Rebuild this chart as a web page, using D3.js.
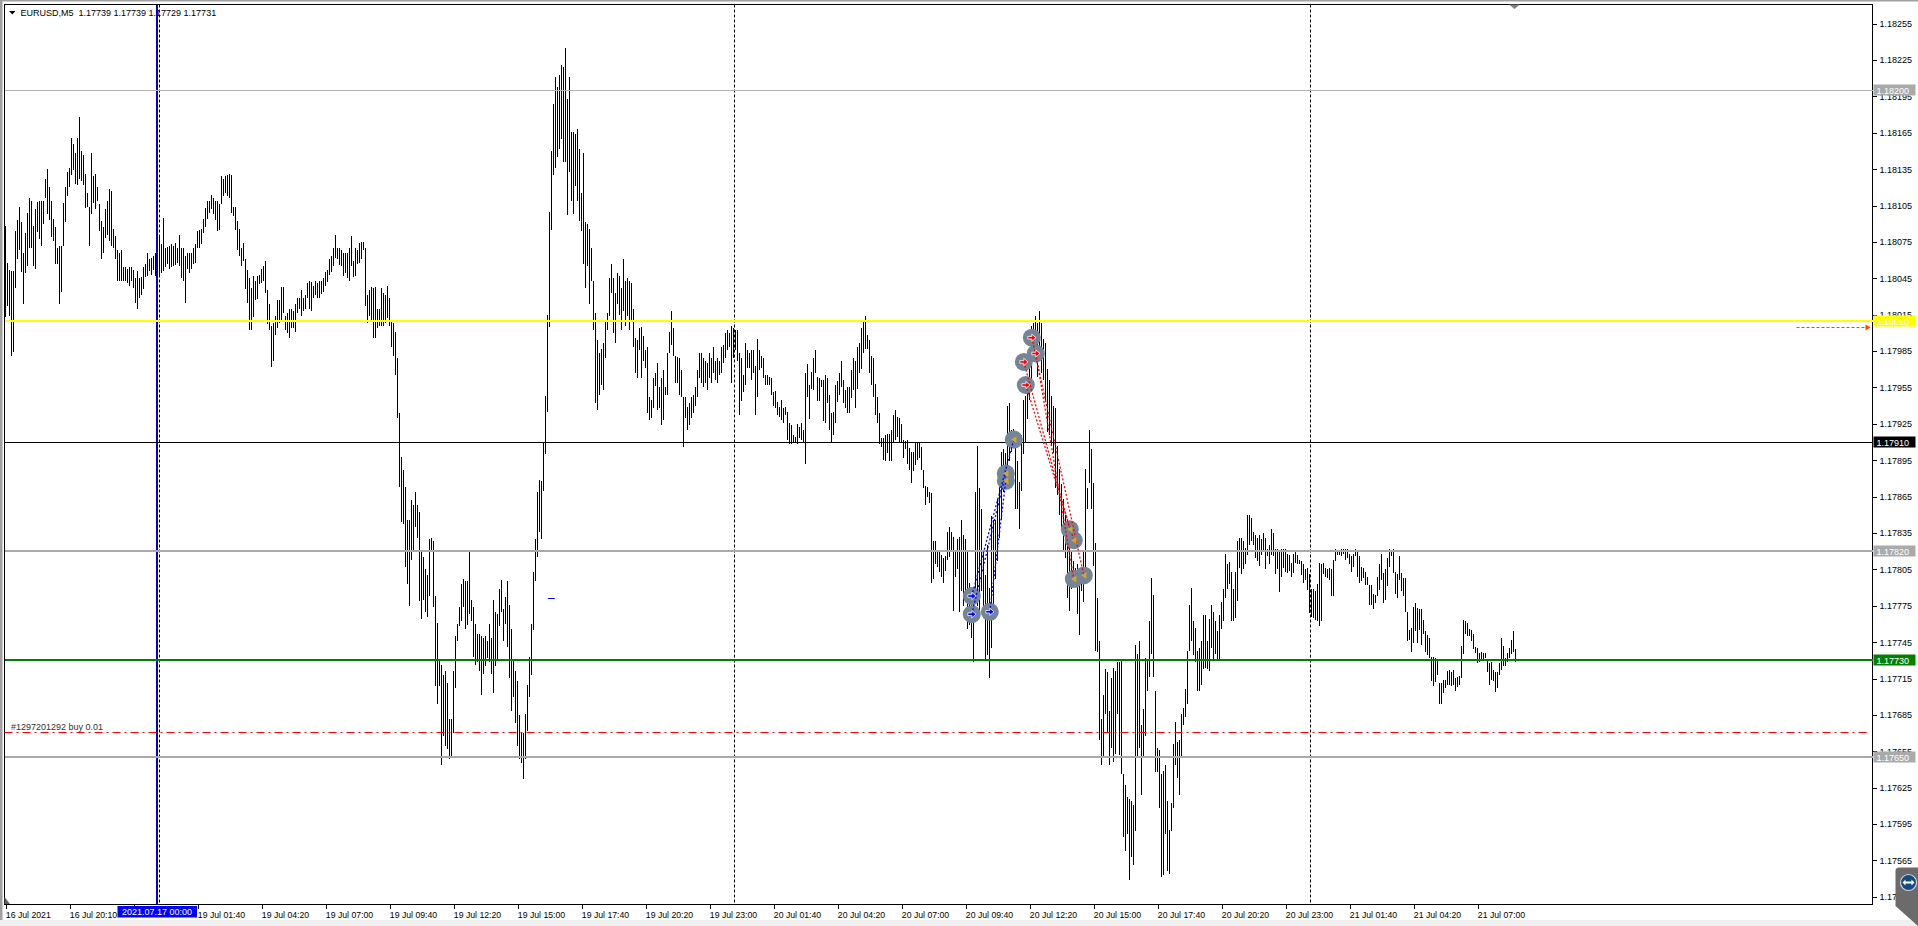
<!DOCTYPE html>
<html>
<head>
<meta charset="utf-8">
<script src="https://cdn.jsdelivr.net/npm/d3@7"></script>
<style>
    body { margin: 0; background: #ffffff; }
    svg { display: block; font-family: "Liberation Sans", Arial, sans-serif; }
</style>
</head>
<body>
<div id="chart-container"></div>
<script>
let width = 1918;
let height = 926;
let plot = ({left: 4.5, top: 4.5, right: 1872.5, bottom: 904.5});

const symbol = "EURUSD,M5";
const lastBarOHLC = [1.17739, 1.17739, 1.17729, 1.17731];

// bar highs / lows, one array per trading day (M5 bars)
const jul16High = [1.18088,1.18058,1.18052,1.18051,1.18051,1.18084,1.18093,1.18104,1.18091,1.18066,
    1.18082,1.18099,1.18111,1.18109,1.18088,1.18102,1.18108,1.18109,1.18109,1.18109,
    1.18127,1.18135,1.18120,1.18109,1.18094,1.18087,1.18070,1.18072,1.18072,1.18107,
    1.18120,1.18133,1.18136,1.18161,1.18156,1.18148,1.18161,1.18178,1.18150,1.18147,
    1.18131,1.18115,1.18104,1.18148,1.18129,1.18131,1.18120,1.18106,1.18092,1.18087,
    1.18102,1.18109,1.18119,1.18117,1.18086,1.18080,1.18068,1.18066,1.18068,1.18054,
    1.18054,1.18053,1.18054,1.18054,1.18052,1.18045,1.18051,1.18045,1.18046,1.18054,
    1.18057,1.18066,1.18061,1.18062,1.18063,1.18066];
const jul16Low = [1.18013,1.18022,1.18014,1.17981,1.17984,1.18037,1.18061,1.18068,1.18050,1.18024,
    1.18049,1.18055,1.18070,1.18070,1.18055,1.18053,1.18083,1.18077,1.18072,1.18090,
    1.18111,1.18098,1.18093,1.18079,1.18076,1.18057,1.18057,1.18024,1.18034,1.18072,
    1.18091,1.18113,1.18120,1.18130,1.18134,1.18123,1.18122,1.18127,1.18125,1.18122,
    1.18103,1.18104,1.18072,1.18098,1.18107,1.18102,1.18109,1.18084,1.18061,1.18066,
    1.18078,1.18081,1.18076,1.18072,1.18070,1.18061,1.18043,1.18043,1.18043,1.18043,
    1.18043,1.18041,1.18039,1.18043,1.18037,1.18025,1.18020,1.18029,1.18031,1.18036,
    1.18046,1.18047,1.18051,1.18048,1.18052,1.18047];

const jul19High = [1.18068,1.18079,1.18073,1.18095,1.18070,1.18071,1.18072,1.18073,1.18072,1.18074,
    1.18070,1.18081,1.18070,1.18070,1.18063,1.18066,1.18066,1.18066,1.18070,1.18073,
    1.18084,1.18085,1.18086,1.18094,1.18103,1.18109,1.18109,1.18114,1.18111,1.18109,
    1.18109,1.18106,1.18129,1.18127,1.18129,1.18130,1.18131,1.18130,1.18104,1.18104,
    1.18092,1.18086,1.18070,1.18074,1.18061,1.18052,1.18045,1.18037,1.18047,1.18043,
    1.18047,1.18048,1.18053,1.18055,1.18059,1.18035,1.18024,1.18006,1.18008,1.18014,
    1.18027,1.18027,1.18038,1.18038,1.18014,1.18016,1.18020,1.18020,1.18018,1.18024,
    1.18029,1.18029,1.18035,1.18029,1.18031,1.18041,1.18043,1.18042,1.18039,1.18043,
    1.18041,1.18043,1.18043,1.18045,1.18050,1.18052,1.18061,1.18063,1.18070,1.18081,
    1.18070,1.18070,1.18068,1.18066,1.18066,1.18066,1.18070,1.18080,1.18059,1.18070,
    1.18068,1.18074,1.18075,1.18075,1.18070,1.18031,1.18035,1.18038,1.18037,1.18038,
    1.18020,1.18020,1.18037,1.18033,1.18031,1.18039,1.18029,1.18010,1.18008,1.18001,
    1.17979,1.17934,1.17898,1.17887,1.17873,1.17846,1.17846,1.17862,1.17858,1.17869,
    1.17858,1.17852,1.17821,1.17815,1.17805,1.17800,1.17830,1.17831,1.17828,1.17783,
    1.17761,1.17731,1.17726,1.17718,1.17721,1.17711,1.17682,1.17682,1.17721,1.17750,
    1.17760,1.17774,1.17793,1.17797,1.17795,1.17795,1.17821,1.17780,1.17774,1.17760,
    1.17752,1.17752,1.17750,1.17748,1.17750,1.17746,1.17760,1.17748,1.17780,1.17770,
    1.17768,1.17789,1.17796,1.17772,1.17782,1.17795,1.17776,1.17756,1.17731,1.17721,
    1.17713,1.17685,1.17670,1.17670,1.17686,1.17710,1.17733,1.17760,1.17803,1.17830,
    1.17869,1.17879,1.17878,1.17910,1.17948,1.18015,1.18100,1.18150,1.18189,1.18211,
    1.18203,1.18213,1.18221,1.18219,1.18235,1.18193,1.18211,1.18166,1.18166,1.18164,
    1.18168,1.18152,1.18115,1.18148,1.18091,1.18090,1.18086,1.18070,1.18043,1.18016,
    1.17994,1.17983,1.17987,1.17992,1.18010,1.18016,1.18045,1.18057,1.18045,1.18033,
    1.18049,1.18047,1.18037,1.18061,1.18043,1.18045,1.18043,1.18041,1.18020,1.17996,
    1.17994,1.18004,1.18005,1.17997,1.17986,1.17988,1.17947,1.17945,1.17963,1.17967,
    1.17975,1.17955,1.17963,1.17969,1.17955,1.17983,1.18001,1.18018,1.18004,1.17981,
    1.17980,1.17979,1.17969,1.17947,1.17947,1.17939,1.17942,1.17947,1.17949,1.17955,
    1.17969,1.17983,1.17983,1.17979,1.17977,1.17975,1.17983,1.17979,1.17988,1.17977,
    1.17979,1.17977,1.17988,1.17990,1.18000,1.18002,1.18000,1.18006];
const jul19Low = [1.18049,1.18046,1.18049,1.18051,1.18054,1.18057,1.18053,1.18054,1.18055,1.18056,
    1.18058,1.18055,1.18045,1.18043,1.18025,1.18053,1.18049,1.18053,1.18057,1.18058,
    1.18070,1.18070,1.18073,1.18082,1.18087,1.18094,1.18099,1.18102,1.18098,1.18093,
    1.18084,1.18085,1.18106,1.18113,1.18115,1.18113,1.18111,1.18099,1.18096,1.18085,
    1.18068,1.18063,1.18055,1.18059,1.18036,1.18025,1.18002,1.18002,1.18013,1.18027,
    1.18028,1.18040,1.18041,1.18043,1.18033,1.18007,1.18002,1.17972,1.17977,1.17998,
    1.18004,1.18008,1.18010,1.18016,1.18002,1.18000,1.17996,1.18004,1.18004,1.18001,
    1.18016,1.18020,1.18014,1.18018,1.18020,1.18029,1.18020,1.18018,1.18029,1.18031,
    1.18029,1.18029,1.18032,1.18034,1.18039,1.18042,1.18048,1.18050,1.18055,1.18062,
    1.18061,1.18056,1.18055,1.18047,1.18049,1.18045,1.18043,1.18055,1.18046,1.18047,
    1.18057,1.18058,1.18061,1.18068,1.18022,1.18008,1.18014,1.18010,1.17996,1.17996,
    1.18004,1.18006,1.18006,1.18006,1.18008,1.18012,1.18006,1.17988,1.17981,1.17965,
    1.17930,1.17873,1.17844,1.17842,1.17807,1.17793,1.17775,1.17813,1.17819,1.17840,
    1.17831,1.17779,1.17764,1.17780,1.17770,1.17766,1.17783,1.17820,1.17774,1.17709,
    1.17694,1.17709,1.17644,1.17668,1.17659,1.17657,1.17649,1.17651,1.17670,1.17707,
    1.17746,1.17758,1.17762,1.17774,1.17756,1.17759,1.17768,1.17762,1.17733,1.17726,
    1.17729,1.17721,1.17701,1.17719,1.17725,1.17732,1.17729,1.17719,1.17703,1.17725,
    1.17731,1.17758,1.17770,1.17746,1.17760,1.17741,1.17715,1.17688,1.17700,1.17678,
    1.17659,1.17649,1.17645,1.17632,1.17649,1.17672,1.17700,1.17718,1.17755,1.17795,
    1.17815,1.17836,1.17830,1.17870,1.17900,1.17935,1.18005,1.18085,1.18130,1.18136,
    1.18145,1.18152,1.18160,1.18141,1.18141,1.18097,1.18133,1.18109,1.18098,1.18121,
    1.18109,1.18092,1.18084,1.18057,1.18037,1.18055,1.18024,1.18043,1.18002,1.17942,
    1.17936,1.17949,1.17957,1.17953,1.17979,1.18002,1.18014,1.18033,1.18000,1.17992,
    1.18024,1.18015,1.18002,1.18018,1.18006,1.18014,1.18002,1.18010,1.17988,1.17967,
    1.17963,1.17986,1.17963,1.17977,1.17971,1.17934,1.17928,1.17930,1.17938,1.17956,
    1.17936,1.17938,1.17924,1.17928,1.17949,1.17949,1.17983,1.17990,1.17981,1.17959,
    1.17959,1.17949,1.17947,1.17906,1.17930,1.17920,1.17924,1.17930,1.17934,1.17940,
    1.17947,1.17963,1.17959,1.17955,1.17959,1.17953,1.17963,1.17959,1.17967,1.17961,
    1.17959,1.17965,1.17967,1.17975,1.17979,1.17986,1.17988,1.17959];

const jul20High = [1.18004,1.18002,1.18002,1.17983,1.17979,1.17965,1.17992,1.17986,1.17983,1.17986,
    1.17986,1.17973,1.17995,1.17986,1.17981,1.17979,1.17965,1.17965,1.17964,1.17963,
    1.17951,1.17952,1.17943,1.17939,1.17945,1.17938,1.17939,1.17935,1.17926,1.17924,
    1.17916,1.17914,1.17925,1.17922,1.17926,1.17920,1.17967,1.17974,1.17957,1.17968,
    1.17979,1.17986,1.17964,1.17963,1.17961,1.17961,1.17965,1.17963,1.17949,1.17934,
    1.17935,1.17957,1.17960,1.17967,1.17977,1.17961,1.17953,1.17955,1.17955,1.17969,
    1.17979,1.17977,1.17988,1.17992,1.18004,1.18010,1.18014,1.17998,1.17994,1.17981,
    1.17979,1.17958,1.17947,1.17934,1.17913,1.17913,1.17916,1.17917,1.17917,1.17920,
    1.17932,1.17936,1.17931,1.17930,1.17925,1.17912,1.17911,1.17912,1.17905,1.17902,
    1.17902,1.17909,1.17910,1.17909,1.17906,1.17887,1.17874,1.17873,1.17869,1.17868,
    1.17828,1.17828,1.17821,1.17819,1.17817,1.17814,1.17816,1.17836,1.17840,1.17836,
    1.17832,1.17819,1.17830,1.17832,1.17846,1.17833,1.17830,1.17820,1.17794,1.17790,
    1.17784,1.17869,1.17907,1.17872,1.17855,1.17819,1.17800,1.17825,1.17790,1.17849,
    1.17846,1.17846,1.17863,1.17885,1.17902,1.17904,1.17901,1.17940,1.17942,1.17920,
    1.17921,1.17917,1.17894,1.17877,1.17916,1.17945,1.17948,1.17956,1.17973,1.18006,
    1.18008,1.18014,1.18008,1.18018,1.18008,1.17995,1.17992,1.17970,1.17961,1.17948,
    1.17940,1.17938,1.17907,1.17888,1.17875,1.17863,1.17850,1.17844,1.17825,1.17819,
    1.17812,1.17806,1.17809,1.17803,1.17806,1.17820,1.17888,1.17872,1.17920,1.17904,
    1.17876,1.17827,1.17781,1.17746,1.17682,1.17701,1.17723,1.17720,1.17688,1.17715,
    1.17724,1.17721,1.17729,1.17729,1.17731,1.17636,1.17627,1.17617,1.17616,1.17614,
    1.17611,1.17743,1.17735,1.17746,1.17677,1.17690,1.17732,1.17731,1.17762,1.17798,
    1.17784,1.17705,1.17658,1.17656,1.17636,1.17639,1.17644,1.17614,1.17590,1.17612,
    1.17661,1.17679,1.17663,1.17664,1.17686,1.17691,1.17706,1.17738,1.17776,1.17790,
    1.17762,1.17757,1.17738,1.17740,1.17746,1.17767,1.17767,1.17746,1.17764,1.17776,
    1.17770,1.17762,1.17754,1.17767,1.17778,1.17789,1.17818,1.17809,1.17811,1.17803,
    1.17789,1.17803,1.17828,1.17831,1.17831,1.17828,1.17823,1.17850,1.17850,1.17847,
    1.17836,1.17833,1.17831,1.17833,1.17830,1.17835,1.17831,1.17822,1.17825,1.17838,
    1.17835,1.17822,1.17822,1.17820,1.17822,1.17822,1.17822,1.17818,1.17817,1.17810,
    1.17818,1.17821,1.17817,1.17813,1.17812,1.17809,1.17805,1.17806];
const jul20Low = [1.17979,1.17986,1.17977,1.17932,1.17944,1.17951,1.17957,1.17971,1.17971,1.17961,
    1.17967,1.17932,1.17947,1.17969,1.17971,1.17963,1.17957,1.17957,1.17957,1.17949,
    1.17940,1.17938,1.17932,1.17931,1.17928,1.17926,1.17932,1.17912,1.17908,1.17908,
    1.17909,1.17910,1.17908,1.17913,1.17912,1.17910,1.17892,1.17947,1.17929,1.17954,
    1.17953,1.17967,1.17944,1.17944,1.17955,1.17927,1.17926,1.17942,1.17920,1.17910,
    1.17916,1.17926,1.17943,1.17949,1.17955,1.17942,1.17938,1.17934,1.17934,1.17946,
    1.17953,1.17938,1.17954,1.17967,1.17970,1.17983,1.17987,1.17987,1.17967,1.17957,
    1.17947,1.17932,1.17926,1.17908,1.17906,1.17895,1.17894,1.17901,1.17894,1.17894,
    1.17909,1.17912,1.17914,1.17910,1.17910,1.17897,1.17904,1.17892,1.17887,1.17876,
    1.17886,1.17891,1.17895,1.17897,1.17887,1.17872,1.17858,1.17865,1.17860,1.17794,
    1.17797,1.17809,1.17807,1.17803,1.17799,1.17794,1.17804,1.17813,1.17815,1.17819,
    1.17771,1.17799,1.17805,1.17770,1.17787,1.17775,1.17787,1.17756,1.17759,1.17748,
    1.17729,1.17787,1.17775,1.17768,1.17787,1.17768,1.17731,1.17734,1.17715,1.17740,
    1.17765,1.17797,1.17812,1.17831,1.17846,1.17869,1.17876,1.17876,1.17894,1.17902,
    1.17910,1.17855,1.17855,1.17838,1.17870,1.17900,1.17910,1.17929,1.17945,1.17960,
    1.17979,1.17992,1.17964,1.17981,1.17967,1.17961,1.17943,1.17918,1.17916,1.17907,
    1.17901,1.17872,1.17866,1.17850,1.17838,1.17820,1.17814,1.17781,1.17771,1.17789,
    1.17797,1.17792,1.17768,1.17751,1.17787,1.17778,1.17795,1.17855,1.17876,1.17855,
    1.17808,1.17738,1.17737,1.17664,1.17644,1.17650,1.17686,1.17671,1.17644,1.17658,
    1.17646,1.17653,1.17686,1.17652,1.17636,1.17584,1.17573,1.17587,1.17549,1.17568,
    1.17561,1.17589,1.17650,1.17658,1.17619,1.17650,1.17668,1.17705,1.17716,1.17735,
    1.17716,1.17638,1.17638,1.17608,1.17551,1.17553,1.17587,1.17556,1.17554,1.17589,
    1.17608,1.17644,1.17633,1.17619,1.17650,1.17677,1.17683,1.17694,1.17738,1.17746,
    1.17734,1.17729,1.17705,1.17705,1.17710,1.17723,1.17724,1.17723,1.17721,1.17740,
    1.17731,1.17735,1.17731,1.17731,1.17756,1.17762,1.17781,1.17789,1.17793,1.17762,
    1.17762,1.17765,1.17779,1.17806,1.17801,1.17805,1.17809,1.17817,1.17825,1.17828,
    1.17825,1.17814,1.17812,1.17808,1.17817,1.17819,1.17805,1.17816,1.17809,1.17817,
    1.17816,1.17801,1.17805,1.17786,1.17799,1.17806,1.17803,1.17802,1.17804,1.17799,
    1.17802,1.17810,1.17809,1.17809,1.17800,1.17794,1.17796,1.17788];

const jul21High = [1.17801,1.17789,1.17789,1.17787,1.17793,1.17810,1.17809,1.17810,1.17806,1.17805,
    1.17806,1.17805,1.17813,1.17822,1.17821,1.17821,1.17822,1.17822,1.17822,1.17822,
    1.17818,1.17816,1.17818,1.17822,1.17820,1.17816,1.17807,1.17806,1.17803,1.17799,
    1.17792,1.17792,1.17785,1.17784,1.17799,1.17809,1.17818,1.17802,1.17805,1.17814,
    1.17822,1.17821,1.17822,1.17803,1.17801,1.17816,1.17802,1.17798,1.17798,1.17770,
    1.17755,1.17757,1.17774,1.17777,1.17773,1.17772,1.17772,1.17763,1.17754,1.17751,
    1.17748,1.17733,1.17733,1.17732,1.17730,1.17711,1.17711,1.17714,1.17714,1.17721,
    1.17722,1.17720,1.17722,1.17715,1.17716,1.17717,1.17742,1.17763,1.17762,1.17761,
    1.17756,1.17755,1.17752,1.17741,1.17740,1.17736,1.17737,1.17736,1.17736,1.17731,
    1.17728,1.17729,1.17722,1.17720,1.17720,1.17728,1.17748,1.17742,1.17732,1.17736,
    1.17740,1.17747,1.17754,1.17739];
const jul21Low = [1.17769,1.17766,1.17765,1.17763,1.17762,1.17758,1.17762,1.17801,1.17799,1.17798,
    1.17796,1.17783,1.17783,1.17812,1.17817,1.17817,1.17816,1.17818,1.17813,1.17814,
    1.17809,1.17803,1.17807,1.17816,1.17799,1.17794,1.17795,1.17798,1.17792,1.17792,
    1.17776,1.17776,1.17772,1.17777,1.17783,1.17788,1.17796,1.17777,1.17780,1.17791,
    1.17807,1.17816,1.17802,1.17785,1.17781,1.17796,1.17787,1.17783,1.17770,1.17746,
    1.17747,1.17737,1.17744,1.17754,1.17744,1.17755,1.17743,1.17752,1.17737,1.17734,
    1.17732,1.17713,1.17709,1.17712,1.17718,1.17694,1.17694,1.17703,1.17707,1.17710,
    1.17710,1.17709,1.17710,1.17705,1.17708,1.17710,1.17715,1.17735,1.17752,1.17750,
    1.17750,1.17746,1.17739,1.17736,1.17728,1.17729,1.17731,1.17731,1.17732,1.17720,
    1.17710,1.17714,1.17713,1.17704,1.17707,1.17718,1.17722,1.17725,1.17725,1.17729,
    1.17732,1.17735,1.17737,1.17729];

const priceTickLabels = ["1.18255","1.18225","1.18195","1.18165","1.18135","1.18105","1.18075","1.18045",
    "1.18015","1.17985","1.17955","1.17925","1.17895","1.17865","1.17835","1.17805","1.17775","1.17745",
    "1.17715","1.17685","1.17655","1.17625","1.17595","1.17565","1.17535"];

const timeLabels = ["16 Jul 2021", "16 Jul 20:10", "", "19 Jul 01:40", "19 Jul 04:20", "19 Jul 07:00",
    "19 Jul 09:40", "19 Jul 12:20", "19 Jul 15:00", "19 Jul 17:40", "19 Jul 20:20", "19 Jul 23:00",
    "20 Jul 01:40", "20 Jul 04:20", "20 Jul 07:00", "20 Jul 09:40", "20 Jul 12:20", "20 Jul 15:00",
    "20 Jul 17:40", "20 Jul 20:20", "20 Jul 23:00", "21 Jul 01:40", "21 Jul 04:20", "21 Jul 07:00"];
const barsPerTimeLabel = 32;

const daySeparatorBars = [76, 364, 652];
const vlineBar = 76;
const vlineLabel = "2021.07.17 00:00";

const levelPrices = [1.18200, 1.18010, 1.17910, 1.17820, 1.17730, 1.17650];

const orderTicket = "#1297201292 buy 0.01";
const orderPrice = 1.17671;
const orderArrowPrice = 1.18005;

const buyOpenBars = [483, 483, 492];
const buyOpenPrices = [1.17783, 1.17768, 1.17770];
const buyCloseBars = [504, 500, 500];
const buyClosePrices = [1.17912, 1.17884, 1.17878];

const sellOpenBars = [513, 515, 509, 510];
const sellOpenPrices = [1.17996, 1.17983, 1.17976, 1.17957];
const sellCloseBars = [539, 534, 532, 534];
const sellClosePrices = [1.17800, 1.17797, 1.17838, 1.17829];

const dashMarkBars = [271, 274.5];
const dashMarkPrice = 1.17781;

const levelStyles = [
    {color: "#b4b4b4", width: 1, label: "#aaaaaa"},
    {color: "#ffff00", width: 2, label: "#ffff00"},
    {color: "#000000", width: 1, label: "#000000"},
    {color: "#a9a9a9", width: 2, label: "#aaaaaa"},
    {color: "#008000", width: 2, label: "#008000"},
    {color: "#a9a9a9", width: 2, label: "#aaaaaa"}
];

const highs = jul16High.concat(jul19High, jul20High, jul21High);
const lows = jul16Low.concat(jul19Low, jul20Low, jul21Low);
const chartData = highs.map((h, i) => ({bar: i, high: h, low: lows[i]}));

function drawFrame(svg) {
    svg.append("rect").attr("width", width).attr("height", height).attr("fill", "#ffffff");
    svg.append("rect").attr("x", 0).attr("y", 0).attr("width", width).attr("height", 1.5).attr("fill", "#a0a0a0");
    svg.append("rect").attr("x", 0).attr("y", 0).attr("width", 2.5).attr("height", height).attr("fill", "#a0a0a0");
    svg.append("rect").attr("x", 0).attr("y", 920).attr("width", width).attr("height", 6).attr("fill", "#f0f0f0");

    svg.append("path")
        .attr("d", `M${plot.left},${plot.bottom}V${plot.top}H${plot.right}V${plot.bottom}Z`)
        .attr("fill", "none")
        .attr("stroke", "#000")
        .attr("shape-rendering", "crispEdges");
}

function drawAxes(svg, x, y) {
    const yAxis = d3.axisRight(y)
        .tickValues(priceTickLabels.map(Number))
        .tickFormat((d, i) => priceTickLabels[i])
        .tickSize(4)
        .tickPadding(3);

    svg.append("g")
        .attr("class", "y-axis")
        .attr("transform", `translate(${plot.right},0)`)
        .call(yAxis)
        .call(g => g.select(".domain").remove())
        .call(g => g.selectAll("text").attr("font-size", 9).attr("font-family", "Liberation Sans, Arial, sans-serif").attr("fill", "#000"))
        .call(g => g.selectAll("line").attr("shape-rendering", "crispEdges"));

    const tickBars = timeLabels.map((d, i) => i * barsPerTimeLabel);
    const xAxis = d3.axisBottom(x)
        .tickValues(tickBars)
        .tickFormat((d, i) => timeLabels[i])
        .tickSize(4)
        .tickPadding(3);

    svg.append("g")
        .attr("class", "x-axis")
        .attr("transform", `translate(0,${plot.bottom})`)
        .call(xAxis)
        .call(g => g.select(".domain").remove())
        .call(g => g.selectAll("text")
            .attr("text-anchor", "start")
            .attr("x", -0.5)
            .attr("font-size", 8.7)
            .attr("font-family", "Liberation Sans, Arial, sans-serif")
            .attr("fill", "#000"))
        .call(g => g.selectAll("line").attr("shape-rendering", "crispEdges"));
}

function drawBars(svg, x, y) {
    svg.append("g")
        .attr("class", "bars")
        .attr("fill", "#000")
        .attr("shape-rendering", "crispEdges")
        .selectAll("rect")
        .data(chartData)
        .join("rect")
        .attr("x", d => Math.floor(x(d.bar)))
        .attr("y", d => Math.round(y(d.high)))
        .attr("width", 1)
        .attr("height", d => Math.max(1, Math.round(y(d.low)) - Math.round(y(d.high))));
}

function drawVerticals(svg, x) {
    svg.append("g")
        .selectAll("line")
        .data(daySeparatorBars)
        .join("line")
        .attr("x1", d => Math.round(x(d)) + (d === vlineBar ? 1.5 : 0.5))
        .attr("x2", d => Math.round(x(d)) + (d === vlineBar ? 1.5 : 0.5))
        .attr("y1", plot.top)
        .attr("y2", plot.bottom)
        .attr("stroke", "#000")
        .attr("stroke-dasharray", "3,2");

    const vx = Math.round(x(vlineBar)) - 1;
    svg.append("line")
        .attr("x1", vx).attr("x2", vx)
        .attr("y1", plot.top).attr("y2", plot.bottom)
        .attr("stroke", "#0000d8")
        .attr("stroke-width", 2)
        .attr("shape-rendering", "crispEdges");
}

function drawLevels(svg, y) {
    const g = svg.append("g").attr("class", "levels");
    levelPrices.forEach((p, i) => {
        const yy = Math.round(y(p));
        g.append("line")
            .attr("x1", plot.left).attr("x2", plot.right)
            .attr("y1", yy).attr("y2", yy)
            .attr("stroke", levelStyles[i].color)
            .attr("stroke-width", levelStyles[i].width)
            .attr("shape-rendering", "crispEdges");
    });

    // order line with ticket text
    const oy = Math.round(y(orderPrice)) + 0.5;
    g.append("line")
        .attr("x1", plot.left).attr("x2", plot.right - 2)
        .attr("y1", oy).attr("y2", oy)
        .attr("stroke", "#ff0000")
        .attr("stroke-dasharray", "8,4,2,4");
    g.append("text")
        .attr("x", 11).attr("y", oy - 3)
        .attr("font-size", 9)
        .attr("fill", "#333")
        .text(orderTicket);

    // dashed arrow pointing at the price scale
    const ay = Math.round(y(orderArrowPrice)) + 0.5;
    g.append("line")
        .attr("x1", plot.right - 76).attr("x2", plot.right - 6)
        .attr("y1", ay).attr("y2", ay)
        .attr("stroke", "#ff4500")
        .attr("stroke-dasharray", "3,2");
    g.append("path")
        .attr("d", `M${plot.right - 7},${ay - 3}L${plot.right - 2},${ay}L${plot.right - 7},${ay + 3}Z`)
        .attr("fill", "#ff4500");
}

function drawLevelLabels(svg, x, y) {
    const g = svg.append("g").attr("class", "level-labels");
    levelPrices.forEach((p, i) => {
        const yy = Math.round(y(p));
        g.append("rect")
            .attr("x", plot.right + 1).attr("y", yy - 5.5)
            .attr("width", 42).attr("height", 11)
            .attr("fill", levelStyles[i].label);
        g.append("text")
            .attr("x", plot.right + 4).attr("y", yy + 3.5)
            .attr("font-size", 9)
            .attr("fill", "#fff")
            .text(p.toFixed(5));
    });

    const vx = Math.round(x(vlineBar)) - 1;
    g.append("rect")
        .attr("x", vx - 39.5).attr("y", plot.bottom + 1.5)
        .attr("width", 79.5).attr("height", 11.5)
        .attr("fill", "#0000ff");
    g.append("text")
        .attr("x", vx).attr("y", plot.bottom + 10.5)
        .attr("text-anchor", "middle")
        .attr("font-size", 9)
        .attr("fill", "#fff")
        .text(vlineLabel);
    // the time tick under the label stays visible above it
    g.append("line")
        .attr("x1", Math.round(x(2 * barsPerTimeLabel)) + 0.5)
        .attr("x2", Math.round(x(2 * barsPerTimeLabel)) + 0.5)
        .attr("y1", plot.bottom).attr("y2", plot.bottom + 2)
        .attr("stroke", "#000");
}

function arrowPath(dir) {
    return dir > 0
        ? "M-4,-1.3H0V-3.6L4.2,0L0,3.6V1.3H-4Z"
        : "M-2.8,0L2.6,-3.4V3.4Z";
}

function drawTrades(svg, x, y) {
    const buys = buyOpenBars.map((b, i) => ({b0: b, p0: buyOpenPrices[i], b1: buyCloseBars[i], p1: buyClosePrices[i]}));
    const sells = sellOpenBars.map((b, i) => ({b0: b, p0: sellOpenPrices[i], b1: sellCloseBars[i], p1: sellClosePrices[i]}));

    const opens = buys.map(d => ({b: d.b0, p: d.p0, color: "#0000ff"}))
        .concat(sells.map(d => ({b: d.b0, p: d.p0, color: "#ff0000"})));
    const closes = buys.concat(sells).map(d => ({b: d.b1, p: d.p1}));

    const g = svg.append("g").attr("class", "trades");

    g.selectAll(".halo")
        .data(opens.concat(closes))
        .join("circle")
        .attr("class", "halo")
        .attr("cx", d => x(d.b))
        .attr("cy", d => y(d.p))
        .attr("r", 9)
        .attr("fill", "#748597");

    g.selectAll(".buy-line")
        .data(buys)
        .join("line")
        .attr("x1", d => x(d.b0)).attr("y1", d => y(d.p0))
        .attr("x2", d => x(d.b1)).attr("y2", d => y(d.p1))
        .attr("stroke", "#0000ff")
        .attr("stroke-width", 1.3)
        .attr("stroke-dasharray", "2,2");

    g.selectAll(".sell-line")
        .data(sells)
        .join("line")
        .attr("x1", d => x(d.b0)).attr("y1", d => y(d.p0))
        .attr("x2", d => x(d.b1)).attr("y2", d => y(d.p1))
        .attr("stroke", "#ff0000")
        .attr("stroke-width", 1.3)
        .attr("stroke-dasharray", "2,2");

    g.selectAll(".open-arrow")
        .data(opens)
        .join("path")
        .attr("transform", d => `translate(${x(d.b)},${y(d.p)})`)
        .attr("d", arrowPath(1))
        .attr("fill", d => d.color)
        .attr("stroke", "#fff")
        .attr("stroke-width", 0.8);

    g.selectAll(".close-arrow")
        .data(closes)
        .join("path")
        .attr("transform", d => `translate(${x(d.b)},${y(d.p)})`)
        .attr("d", arrowPath(-1))
        .attr("fill", "#daa520");

    const dy = Math.round(y(dashMarkPrice)) + 0.5;
    g.append("line")
        .attr("x1", x(dashMarkBars[0])).attr("x2", x(dashMarkBars[1]))
        .attr("y1", dy).attr("y2", dy)
        .attr("stroke", "#0000ff");
}

function drawHeader(svg) {
    svg.append("path").attr("d", "M9,11H15.5L12.25,14.5Z").attr("fill", "#000");
    svg.append("text")
        .attr("x", 20.5).attr("y", 16)
        .attr("font-size", 9)
        .attr("fill", "#000")
        .style("white-space", "pre")
        .text(`${symbol}  ${lastBarOHLC.map(d => d.toFixed(5)).join(" ")}`);

    // chart shift marker and scroll corner
    svg.append("path").attr("d", "M1509,4.5H1520L1514.5,9Z").attr("fill", "#808080");
    svg.append("path").attr("d", "M4.5,897V904H10Z").attr("fill", "#606060");

    const tab = svg.append("g").attr("class", "scroll-tab");
    tab.append("path")
        .attr("d", "M1899,867.5H1918V926L1895.5,906V871Q1895.5,867.5 1899,867.5Z")
        .attr("fill", "#6b6b6b");
    tab.append("circle")
        .attr("cx", 1908.5).attr("cy", 882.5).attr("r", 8)
        .attr("fill", "#134a80")
        .attr("stroke", "#c9d3dd")
        .attr("stroke-width", 1.2);
    tab.append("path")
        .attr("d", "M1902.5,882.5L1905.5,879.5V881.5H1911.5V879.5L1914.5,882.5L1911.5,885.5V883.5H1905.5V885.5Z")
        .attr("fill", "#fff");
}

function drawChart() {
    const x = d3.scaleLinear()
        .domain([0, chartData.length - 1])
        .range([5.8, 1515.8]);

    const y = d3.scaleLinear()
        .domain([1.17535, 1.18255])
        .range([896.8, 23.6]);

    const svg = d3.select("#chart-container")
        .append("svg")
        .attr("width", width)
        .attr("height", height)
        .attr("viewBox", [0, 0, width, height]);

    drawFrame(svg);
    drawVerticals(svg, x);
    drawBars(svg, x, y);
    drawLevels(svg, y);
    drawTrades(svg, x, y);
    drawAxes(svg, x, y);
    drawLevelLabels(svg, x, y);
    drawHeader(svg);
}

drawChart();
</script>
</body>
</html>
